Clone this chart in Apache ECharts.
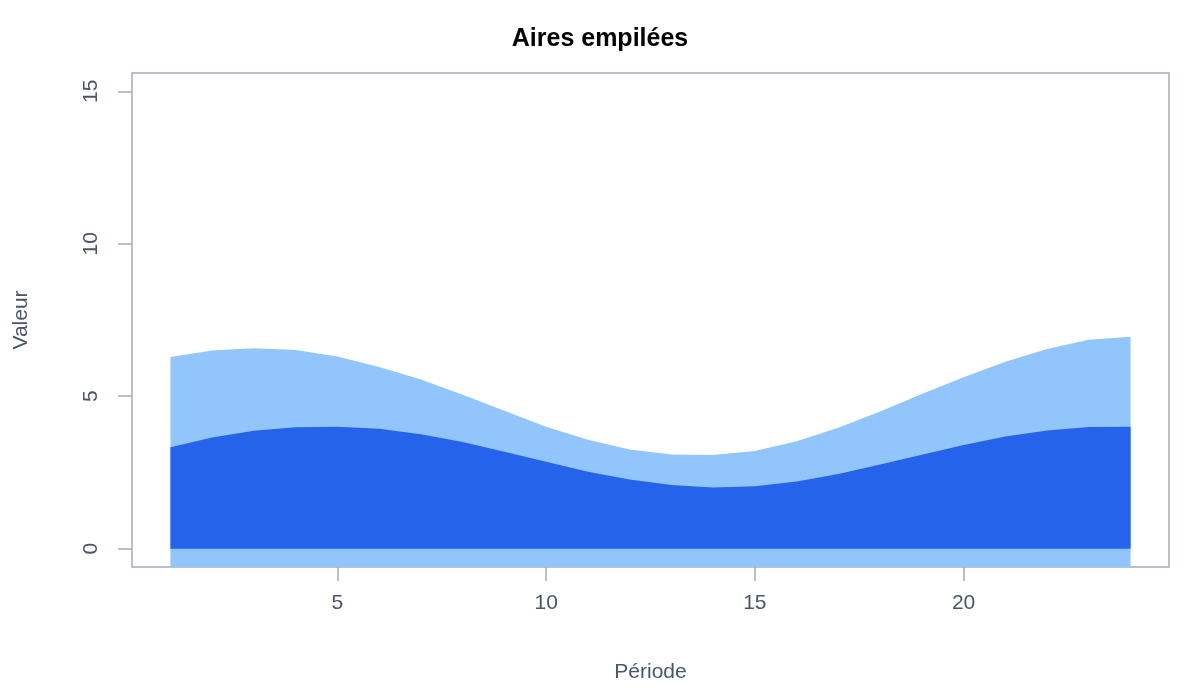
<!DOCTYPE html><html><head><meta charset="utf-8"><script src="https://cdn.jsdelivr.net/npm/echarts@6/dist/echarts.min.js"></script></head><body style="margin:0"><div id="c" style="width:1200px;height:700px"></div><script>
const periods=[1,2,3,4,5,6,7,8,9,10,11,12,13,14,15,16,17,18,19,20,21,22,23,24];
const serieA=[3.33,3.65,3.87,3.98,4.0,3.93,3.75,3.5,3.18,2.85,2.52,2.27,2.09,2.01,2.05,2.2,2.45,2.76,3.08,3.4,3.68,3.88,3.99,4.0];
const serieB=[2.96,2.85,2.70,2.54,2.30,2.03,1.80,1.55,1.34,1.15,1.05,0.98,1.00,1.06,1.15,1.32,1.52,1.74,1.99,2.22,2.45,2.67,2.86,2.95];
const xTicks=[5,10,15,20], yTicks=[0,5,10,15];
const ax='#a3acba', tx='#4a5568';
const total=serieA.map((v,i)=>v+serieB[i]);
const chart=echarts.init(document.getElementById('c'));
chart.setOption({
 animation:false,
 title:{text:'Aires empilées',left:'center',top:22,textStyle:{fontFamily:'Liberation Sans',fontSize:25,fontWeight:'bold',color:'#000'}},
 grid:{left:132,right:31,top:73,bottom:133,show:true,borderColor:ax,borderWidth:1.5},
 xAxis:{type:'value',min:0.08,max:24.92,name:'Période',nameLocation:'middle',nameGap:95,
  nameTextStyle:{fontFamily:'Liberation Sans',fontSize:21,color:tx},
  axisLine:{show:false,onZero:false},splitLine:{show:false},
  axisTick:{show:true,length:14,lineStyle:{color:ax,width:1.5},customValues:xTicks},
  axisLabel:{customValues:xTicks,margin:26,fontFamily:'Liberation Sans',fontSize:21,color:tx}},
 yAxis:{type:'value',min:-0.6,max:15.6,name:'Valeur',nameLocation:'middle',nameGap:100,
  nameTextStyle:{fontFamily:'Liberation Sans',fontSize:21,color:tx},
  axisLine:{show:false,onZero:false},splitLine:{show:false},
  axisTick:{show:true,length:14,lineStyle:{color:ax,width:1.5},customValues:yTicks},
  axisLabel:{customValues:yTicks,rotate:90,margin:30,fontFamily:'Liberation Sans',fontSize:21,color:tx}},
 series:[
  {type:'line',data:periods.map((p,i)=>[p,total[i]]),symbol:'none',lineStyle:{width:0},areaStyle:{color:'#93c5fd',opacity:1,origin:'start'},itemStyle:{color:'#93c5fd'}},
  {type:'line',data:periods.map((p,i)=>[p,serieA[i]]),symbol:'none',lineStyle:{width:0},areaStyle:{color:'#2563eb',opacity:1},itemStyle:{color:'#2563eb'}}
 ]
});
</script></body></html>
